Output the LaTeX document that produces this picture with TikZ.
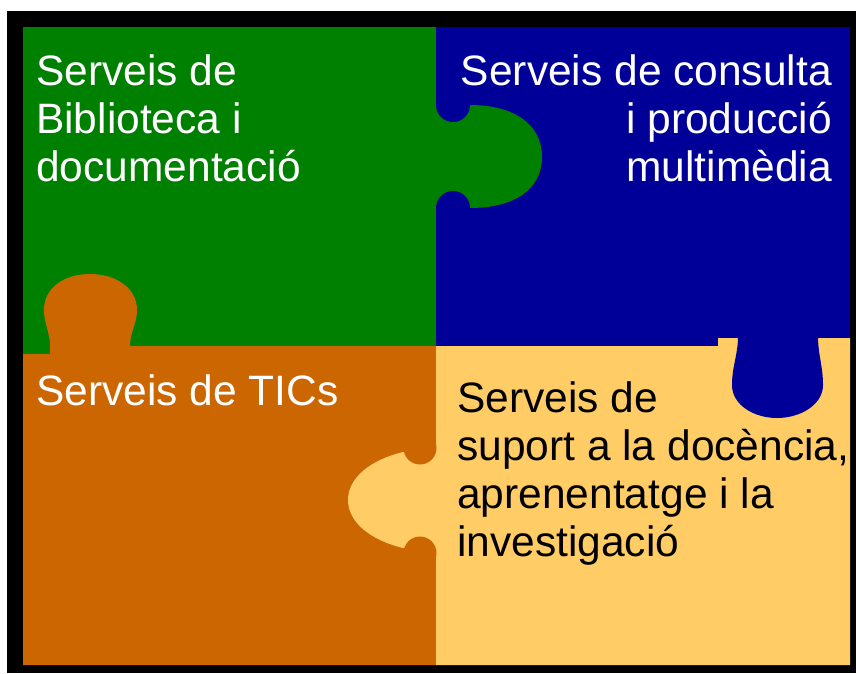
\documentclass[tikz,border=0pt]{standalone}
\usepackage{fontspec}
\setmainfont{Liberation Sans}
\usetikzlibrary{positioning}
\definecolor{pgreen}{RGB}{0,128,0}
\definecolor{pblue}{RGB}{0,0,153}
\definecolor{porange}{RGB}{204,102,0}
\definecolor{pyellow}{RGB}{255,204,102}

\begin{document}
\begin{tikzpicture}[x=1pt,y=-1pt,
  piecetext/.style = {inner sep=0pt, font=\fontsize{42.5}{48}\selectfont},
  onwhite/.style = {piecetext, text=white}]
\useasboundingbox (0,0) rectangle (856,673);
\fill[black] (7,11) rectangle (856,673);

% the four pieces
\fill[pgreen] (23,27) rectangle (436,354);
\fill[pblue] (436,27) rectangle (850,346);
\fill[pgreen] (436,105) -- (470,105) .. controls (515,105) and (542,125) .. (542,157)
  .. controls (542,189) and (515,208) .. (470,208) -- (436,208) -- cycle;
\fill[pblue] (453,105) circle (17);
\fill[pblue] (453,208) circle (17);

\fill[porange] (23,665) -- (23,354) -- (50,354) -- (50,346)
  .. controls (50,332) and (44,324) .. (44,310)
  .. controls (44,288) and (64,274) .. (90,274)
  .. controls (116,274) and (137,288) .. (137,310)
  .. controls (137,324) and (130,332) .. (130,346)
  -- (436,346) -- (436,665) -- cycle;

\fill[pyellow] (436,665) -- (436,346) -- (718,346) -- (718,338) -- (850,338) -- (850,665) -- cycle;
\fill[pyellow] (436,452) -- (403,452) .. controls (370,460) and (348,478) .. (348,500)
  .. controls (348,522) and (370,540) .. (403,548) -- (436,548) -- cycle;
\fill[porange] (420,448) circle (16.5);
\fill[porange] (420,553) circle (16.5);

\fill[pblue] (738,336) .. controls (738,355) and (732,366) .. (732,385)
  .. controls (732,405) and (754,418) .. (777,418)
  .. controls (800,418) and (823,405) .. (823,385)
  .. controls (823,366) and (818,355) .. (818,336) -- cycle;

% texts
\node[onwhite, anchor=north west, align=left] (bib) at (36,54)
  {Serveis de\\Biblioteca i\\documentació};
\node[onwhite, anchor=north east, align=right] (multi) at (832,54)
  {Serveis de consulta\\i producció\\multimèdia};
\node[onwhite, anchor=north west] (tics) at (36,374) {Serveis de TICs};
\node[piecetext, anchor=north west, align=left] (suport) at (457,381)
  {Serveis de\\suport a la docència,\\aprenentatge i la\\investigació};
\end{tikzpicture}
\end{document}
